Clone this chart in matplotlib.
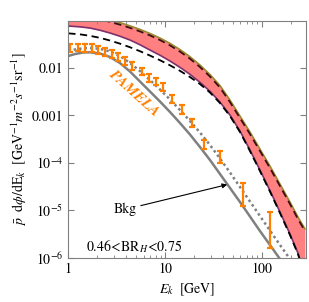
import numpy as np
import matplotlib
matplotlib.use("Agg")
import matplotlib.pyplot as plt

plt.rcParams['font.family'] = 'STIXGeneral'
plt.rcParams['mathtext.fontset'] = 'stix'

# background (solid gray)
bkg_E = [1.0, 1.173, 1.419, 1.677, 2.127, 2.70, 3.424, 4.346, 5.513, 6.997, 8.878, 11.27,
         14.29, 18.14, 23.01, 29.20, 37.05, 47.01, 59.65, 75.68, 96.0, 121.8, 154.6, 196.2, 249]
bkg_flux = [0.0179, 0.0197, 0.0212, 0.0214, 0.0202, 0.01705, 0.01274, 0.00844, 0.0052,
            0.0032, 0.00197, 0.001185, 6.95e-4, 3.98e-4, 2.17e-4, 1.157e-4, 5.87e-5,
            2.98e-5, 1.51e-5, 7.48e-6, 3.7e-6, 1.88e-6, 9.5e-7, 4.83e-7, 2.45e-7]

# background + signal fit (dotted gray)
tot_E = bkg_E
tot_flux = [0.0228, 0.0245, 0.026, 0.0264, 0.0254, 0.0223, 0.0179, 0.01274, 0.00865,
            0.00559, 0.00353, 0.00217, 0.001305, 7.66e-4, 4.39e-4, 2.39e-4, 1.244e-4,
            6.31e-5, 3.13e-5, 1.547e-5, 7.66e-6, 3.79e-6, 1.88e-6, 9.5e-7, 4.83e-7]

# red band edges
band_E = [1.0, 1.321, 1.677, 2.127, 2.70, 3.424, 4.346, 5.513, 6.997, 8.878, 11.27, 14.29,
          18.14, 23.01, 29.20, 37.05, 47.01, 59.65, 75.68, 96.0, 121.8, 154.6, 196.2, 237.4, 280.4]
band_lo = [0.0766, 0.0737, 0.0695, 0.0625, 0.0546, 0.0467, 0.0389, 0.0309, 0.0239, 0.0186,
           0.01404, 0.01034, 0.00737, 0.0050, 0.00323, 0.00192, 0.001024, 4.72e-4, 1.88e-4,
           7.12e-5, 2.64e-5, 9.3e-6, 3.2e-6, 1.27e-6, 4.39e-7]
band_hi = [0.151, 0.1404, 0.1293, 0.1168, 0.1034, 0.0903, 0.0774, 0.065, 0.0535, 0.0428,
           0.0331, 0.0245, 0.0173, 0.01157, 0.0073, 0.00428, 0.00212, 9.76e-4, 4.5e-4,
           1.97e-4, 8.65e-5, 3.61e-5, 1.51e-5, 7.3e-6, 4.08e-6]
band_dash = [0.137, 0.1274, 0.1173, 0.106, 0.0938, 0.0819, 0.0702, 0.059, 0.0486, 0.0388,
             0.030, 0.0222, 0.0157, 0.0105, 0.00662, 0.00388, 0.00192, 8.86e-4, 4.08e-4,
             1.79e-4, 7.85e-5, 3.28e-5, 1.37e-5, 6.6e-6, 3.7e-6]

# black dashed curve
bdash_flux = [0.0537, 0.0512, 0.0476, 0.0432, 0.0379, 0.0326, 0.0274, 0.0226, 0.0183,
              0.0146, 0.0114, 0.00873, 0.00646, 0.0046, 0.00305, 0.00183, 9.76e-4, 4.5e-4,
              1.79e-4, 6.79e-5, 2.51e-5, 8.86e-6, 3.05e-6, 1.21e-6, 4.18e-7]

# PAMELA data
pam_E = [1.05, 1.25, 1.5, 1.75, 2.05, 2.4, 2.8, 3.3, 3.9, 4.6, 5.74, 6.88, 8.07, 9.6,
         11.9, 14.9, 18.9, 25.4, 36.7, 64.5, 122]
pam_flux = [0.026, 0.027, 0.026, 0.026, 0.024, 0.022, 0.020, 0.017, 0.014, 0.011,
            0.0084, 0.0061, 0.0052, 0.0040, 0.0022, 0.00135, 6.9e-4, 2.5e-4, 1.31e-4,
            2.12e-5, 3.9e-6]
pam_lo = [0.0045, 0.0045, 0.0045, 0.0045, 0.004, 0.0037, 0.0034, 0.0029, 0.0024, 0.0019,
          0.0014, 0.001, 0.0009, 0.0007, 0.0004, 0.00025, 0.00013, 5e-5, 3.2e-5, 9e-6, 2.3e-6]
pam_hi = [0.0055, 0.0055, 0.0055, 0.0055, 0.005, 0.0046, 0.0042, 0.0036, 0.003, 0.0024,
          0.0018, 0.0013, 0.0011, 0.0009, 0.0005, 0.0003, 0.00016, 6e-5, 4.5e-5, 1.6e-5, 5.5e-6]

fig = plt.figure(figsize=(3.09, 3.02), dpi=100)
ax = fig.add_axes([0.221, 0.146, 0.768, 0.786])

ax.fill_between(band_E, band_lo, band_hi, color='#ff8080', lw=0)
ax.plot(band_E, band_hi, color='#9a8a30', lw=1.2)
ax.plot(band_E, band_lo, color='#80306a', lw=1.2)
ax.plot(band_E, band_dash, color='#3a1010', lw=1.3, ls=(0, (4, 2.5)))
ax.plot(band_E, bdash_flux, color='black', lw=1.3, ls=(0, (4, 2.5)))

ax.plot(bkg_E, bkg_flux, color='#808080', lw=1.8)
ax.plot(tot_E, tot_flux, color='#808080', lw=1.8, ls=(0, (1, 1.2)))

ax.errorbar(pam_E, pam_flux, yerr=[pam_lo, pam_hi], fmt='none', ecolor='#ff8000',
            elinewidth=1.6, capsize=2.5, capthick=1.6)

ax.set_xscale('log')
ax.set_yscale('log')
ax.set_xlim(1, 285)
ax.set_ylim(1e-6, 0.1)

ax.set_yticks([1e-6, 1e-5, 1e-4, 0.001, 0.01])
ax.set_yticklabels([r'$10^{-6}$', r'$10^{-5}$', r'$10^{-4}$', '0.001', '0.01'])
ax.yaxis.set_minor_locator(matplotlib.ticker.NullLocator())
ax.set_xticks([1, 10, 100])
ax.set_xticklabels(['1', '10', '100'])
ax.tick_params(which='both', direction='in', top=True, right=True, labelsize=10,
               color='#808080')
ax.tick_params(which='major', length=4)
ax.tick_params(which='minor', length=2)
for s in ax.spines.values():
    s.set_color('#808080')
    s.set_linewidth(0.8)

ax.set_xlabel(r'$E_k\ \ [\mathrm{GeV}]$', fontsize=10)
ax.set_ylabel(r'$\bar{p}\ \ \mathrm{d}\phi/\mathrm{dE}_k\ \ [\mathrm{GeV}^{-1}m^{-2}s^{-1}\mathrm{sr}^{-1}]$',
              fontsize=10, labelpad=2)

ax.text(4.8, 0.0029, 'PAMELA', color='#ff8000', fontsize=11, fontweight='bold',
        style='italic', rotation=-42, ha='center', va='center')
ax.text(1.52, 1.73e-6, r'$0.46\!<\!\mathrm{BR}_H\!<\!0.75$', fontsize=10, ha='left', va='center')
ax.annotate('Bkg', xy=(44, 3.5e-5), xytext=(5.1, 1.05e-5),
            fontsize=10, ha='right', va='center',
            arrowprops=dict(arrowstyle='-|>', color='black', lw=0.8, mutation_scale=7,
                            shrinkA=1, shrinkB=0))

fig.savefig('out.png', dpi=100)
